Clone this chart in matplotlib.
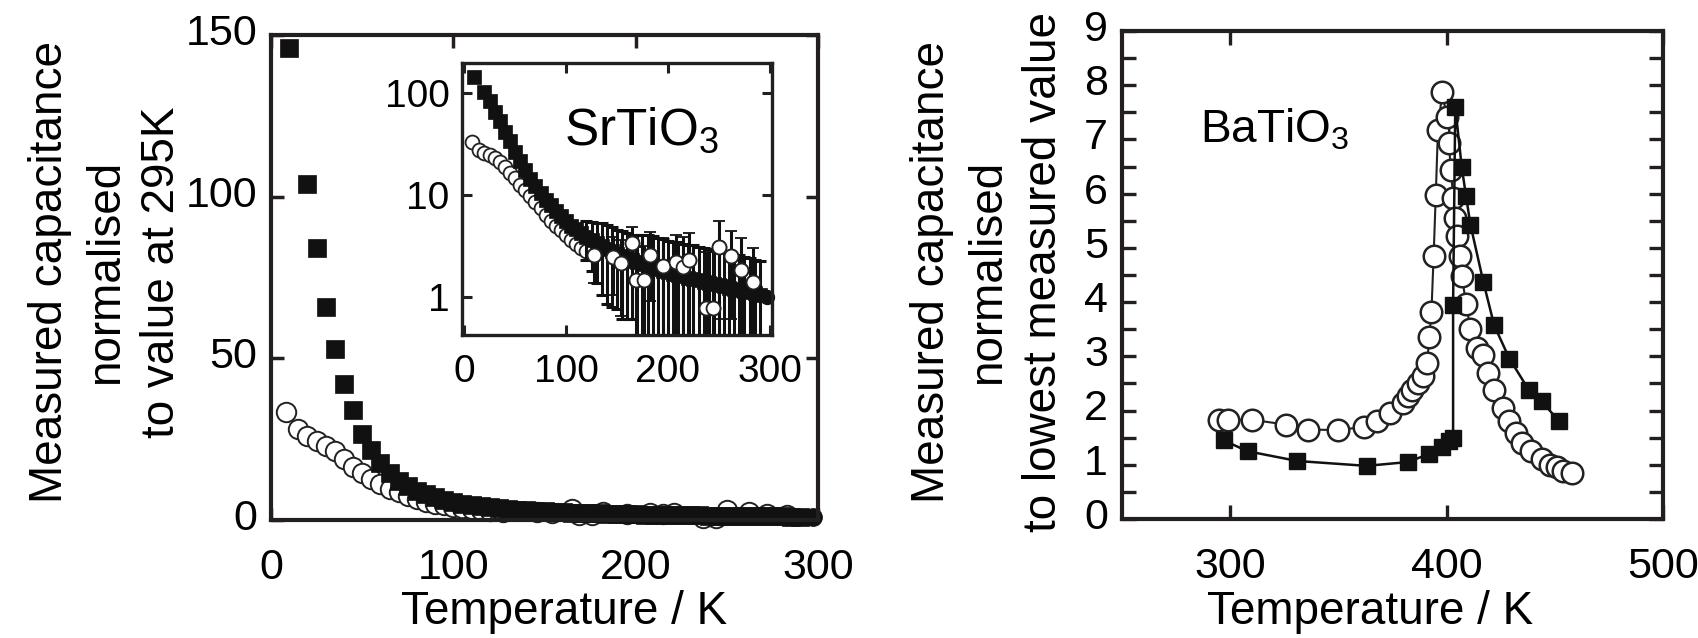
import numpy as np
import matplotlib
import matplotlib.pyplot as plt
import matplotlib.transforms as mtransforms
from matplotlib import font_manager
from matplotlib.ticker import MultipleLocator, NullLocator

plt.rcParams['font.family'] = ['Liberation Sans', 'DejaVu Sans']
plt.rcParams['mathtext.default'] = 'regular'

# narrow font for the axis titles if we have it
names = {f.name for f in font_manager.fontManager.ttflist}
if 'Liberation Sans Narrow' in names:
    lab_family, lab_size = ['Liberation Sans Narrow', 'Liberation Sans'], 39
else:
    lab_family, lab_size = ['Liberation Sans', 'DejaVu Sans'], 33

# SrTiO3 data (normalised to 295 K)
sr_sq_T = np.array([10, 20, 25, 30, 35, 40, 45, 50, 55, 60, 65, 70, 75, 80, 85, 90, 95, 100,
                    105, 110, 115, 120, 125, 130, 135, 140, 145, 150, 155, 160, 165, 170,
                    175, 180, 185, 190, 195, 200, 205, 210, 215, 220, 225, 230, 235, 240,
                    245, 250, 255, 260, 265, 270, 275, 280, 285, 290])
sr_sq_v = np.array([146, 104, 84, 66, 53, 42, 34, 26.5, 21.5, 17.5, 14.5, 12.2, 10.4, 9.0,
                    7.9, 7.0, 6.2, 5.6, 5.0, 4.6, 4.2, 3.9, 3.6, 3.35, 3.15, 2.95, 2.8, 2.65,
                    2.5, 2.4, 2.3, 2.2, 2.1, 2.02, 1.95, 1.88, 1.81, 1.75, 1.69, 1.64, 1.59,
                    1.54, 1.49, 1.45, 1.41, 1.37, 1.33, 1.29, 1.26, 1.23, 1.2, 1.17, 1.14,
                    1.11, 1.08, 1.05])
sr_sq_err = np.array([0]*21 + [1.6, 1.8, 2.0, 2.1, 2.1, 2.0, 1.9, 1.9, 1.8, 1.7, 1.8, 1.9,
                               2.0, 2.0, 1.9, 1.9, 1.8, 1.8, 1.8, 1.7, 1.7, 1.7, 1.6, 1.6,
                               1.6, 1.5, 1.5, 1.5, 1.4, 1.4, 1.4, 1.3, 1.3, 1.2, 1.2])

sr_ci_T = np.array([8, 15, 20, 25, 30, 35, 40, 45, 50, 55, 60, 65, 70, 75, 80, 85, 90, 95,
                    100, 105, 110, 115, 120, 127, 146, 154, 165, 169, 176, 182, 195, 208,
                    215, 221, 237, 244, 250, 262, 272, 283])
sr_ci_v = np.array([33.5, 28, 26, 24.5, 23, 21.3, 19, 16.5, 14.6, 12.6, 11.2, 9.7, 8.6, 7.4,
                    6.4, 5.6, 5.0, 4.5, 4.0, 3.6, 3.3, 3.0, 2.8, 2.57, 2.45, 2.15, 3.4, 1.46,
                    1.46, 2.6, 2.0, 2.2, 1.95, 2.3, 0.77, 0.77, 3.1, 2.5, 1.85, 1.4])
sr_ci_err = np.array([0]*23 + [1.2, 1.4, 1.5, 1.5, 1.6, 1.7, 1.7, 1.8, 1.8, 1.9, 1.9, 2.0,
                               2.0, 2.5, 1.9, 1.9, 1.6])

sr_ref_T, sr_ref_v = [297], [1.0]

# BaTiO3 data (normalised to lowest value)
ba_sq_T = [297, 308, 331, 363, 382, 392, 398, 401, 403, 403, 404, 407, 409, 411, 417, 422,
           429, 438, 444, 452]
ba_sq_v = [1.45, 1.25, 1.07, 0.98, 1.05, 1.2, 1.33, 1.43, 1.5, 3.94, 7.6, 6.49, 5.95, 5.43,
           4.37, 3.57, 2.96, 2.38, 2.17, 1.8]
ba_ci_T = [295, 299, 310, 326, 336, 350, 362, 368, 374, 380, 382, 384, 387, 389, 391, 392,
           393, 394, 395, 396, 398, 400, 401, 402, 403, 404, 405, 406, 407, 409, 411, 414,
           417, 419, 422, 426, 429, 432, 435, 439, 444, 448, 451, 454, 458]
ba_ci_v = [1.83, 1.83, 1.83, 1.74, 1.65, 1.64, 1.70, 1.80, 1.95, 2.14, 2.26, 2.38, 2.50,
           2.63, 2.87, 3.36, 3.82, 4.85, 5.98, 7.18, 7.88, 7.42, 6.93, 6.44, 5.92, 5.56,
           5.22, 4.85, 4.49, 3.97, 3.51, 3.15, 3.02, 2.69, 2.38, 2.05, 1.80, 1.59, 1.40,
           1.25, 1.10, 1.0, 0.95, 0.89, 0.85]

W, H = 1699, 638
fig = plt.figure(figsize=(W/100, H/100), dpi=100)

def box(l, t, r, b):
    return [l/W, 1 - b/H, (r - l)/W, (b - t)/H]

ax1 = fig.add_axes(box(271, 35, 818, 520))
axin = fig.add_axes(box(462, 63, 772, 335))
ax2 = fig.add_axes(box(1122, 31, 1663, 519))

for a, lw in [(ax1, 3), (axin, 2.4), (ax2, 3)]:
    for s in a.spines.values():
        s.set_linewidth(lw)
        s.set_color('#231f20')

# ---- main SrTiO3 panel ----
ax1.plot(sr_ci_T, sr_ci_v, 'o', ms=14, mfc='white', mec='#222', mew=1.4, clip_on=False)
ax1.plot(sr_sq_T, sr_sq_v, 's', ms=12.5, mfc='#111', mec='#111', mew=0.5, clip_on=False)
ax1.plot(sr_ref_T, sr_ref_v, 'o', ms=12.5, color='#111', clip_on=False)
ax1.set_xlim(0, 300)
ax1.set_ylim(0, 150)
ax1.set_xticks([0, 100, 200, 300])
ax1.set_yticks([0, 50, 100, 150])
ax1.tick_params(direction='in', top=True, right=True, length=9, width=2.5,
                labelsize=31, pad=10, color='#231f20')
ax1.tick_params(axis='x', pad=20)

# ---- inset (log) ----
m = sr_ci_err > 0
ms = sr_sq_err > 0
axin.plot(sr_ci_T, sr_ci_v, 'o', ms=10, mfc='white', mec='#222', mew=1.3)
axin.errorbar(sr_sq_T[ms], sr_sq_v[ms], yerr=sr_sq_err[ms],
              fmt='none', ecolor='#111', elinewidth=2.2, capsize=4.5, capthick=2.2)
axin.plot(sr_sq_T, sr_sq_v, 's', ms=9.5, mfc='#111', mec='#111', mew=0.5)
axin.errorbar(sr_ci_T[m], sr_ci_v[m], yerr=sr_ci_err[m], fmt='o', ms=10, mfc='white',
              mec='#222', mew=1.3, ecolor='#111', elinewidth=2.2, capsize=4.5, capthick=2.2)
axin.plot(sr_ref_T, sr_ref_v, 'o', ms=10, color='#111', clip_on=False)
axin.set_yscale('log')
axin.set_xlim(-2, 302)
axin.set_ylim(0.42, 199)
axin.set_xticks([0, 100, 200, 300])
axin.set_yticks([1, 10, 100])
axin.set_yticklabels(['1', '10', '100'])
axin.yaxis.set_minor_locator(NullLocator())
axin.tick_params(direction='in', top=True, right=True, length=7, width=2.2,
                 labelsize=28, pad=9, color='#231f20')
axin.tick_params(axis='x', pad=14)
fig.text(642/W, 1 - 131/H, 'SrTiO$_3$', fontsize=37, ha='center', va='center')

# ---- BaTiO3 panel ----
ax2.plot(ba_ci_T, ba_ci_v, '-o', color='#222', lw=1.5, ms=15.5, mfc='white', mec='#222', mew=1.8)
ax2.plot(ba_sq_T, ba_sq_v, '-s', color='#111', lw=1.8, ms=12, mfc='#111', mec='#111')
ax2.set_xlim(250, 500)
ax2.set_ylim(0, 9)
ax2.set_xticks([300, 400, 500])
ax2.set_yticks(range(10))
ax2.yaxis.set_minor_locator(MultipleLocator(0.5))
ax2.tick_params(which='both', direction='in', top=True, right=True, length=10, width=2.4,
                labelsize=31, pad=10, color='#231f20')
ax2.tick_params(axis='x', pad=20)
fig.text(1274/W, 1 - 130/H, 'BaTiO$_3$', fontsize=33, ha='center', va='center')

# the y numbers sit a little above their ticks in the original
raise_up = mtransforms.ScaledTranslation(0, 4/72, fig.dpi_scale_trans)
for a in (ax1, ax2):
    for lab in a.get_yticklabels():
        lab.set_transform(lab.get_transform() + raise_up)

# axis titles
fig.text(564/W, 1 - 612/H, 'Temperature / K', family=lab_family, fontsize=lab_size,
         ha='center', va='center')
fig.text(1370/W, 1 - 612/H, 'Temperature / K', family=lab_family, fontsize=lab_size,
         ha='center', va='center')
fig.text(106/W, 1 - 272/H, 'Measured capacitance\nnormalised\nto value at 295K',
         family=lab_family, fontsize=lab_size, rotation=90, ha='center', va='center',
         multialignment='center', linespacing=1.35)
fig.text(988/W, 1 - 272/H, 'Measured capacitance\nnormalised\nto lowest measured value',
         family=lab_family, fontsize=lab_size, rotation=90, ha='center', va='center',
         multialignment='center', linespacing=1.35)

fig.savefig('out.png', dpi=100)
